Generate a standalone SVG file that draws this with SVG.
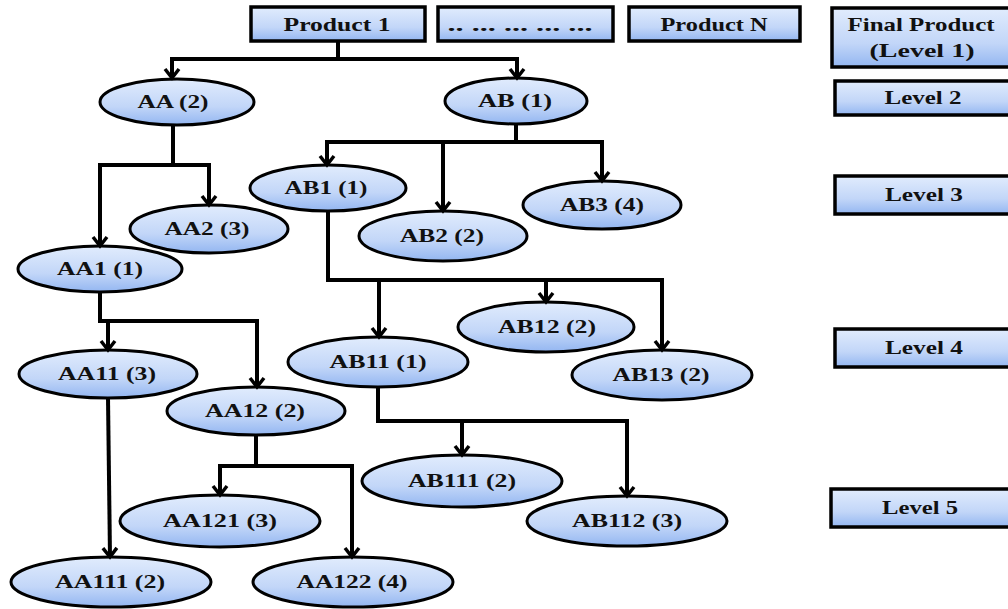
<svg xmlns="http://www.w3.org/2000/svg" width="1008" height="609" viewBox="0 0 1008 609">
<defs>
<linearGradient id="g" x1="0" y1="0" x2="0" y2="1">
<stop offset="0" stop-color="#e1ecfd"/>
<stop offset="0.6" stop-color="#c2d6f8"/>
<stop offset="1" stop-color="#93b6f1"/>
</linearGradient>
<marker id="arr" markerWidth="16" markerHeight="18" refX="12" refY="9" orient="auto" markerUnits="userSpaceOnUse" viewBox="0 0 16 18">
<path d="M3,2 L12,9 L3,16" fill="none" stroke="#000" stroke-width="3.5"/>
</marker>
</defs>
<style>
.box{fill:url(#g);stroke:#000;stroke-width:3.5}
.el{fill:url(#g);stroke:#000;stroke-width:3}
.t{font-family:"Liberation Serif","Times New Roman",serif;font-weight:bold;font-size:19px;fill:#111;text-anchor:middle}
.c{fill:none;stroke:#000;stroke-width:4;marker-end:url(#arr)}
</style>
<rect width="1008" height="609" fill="#fff"/>

<g id="product1"><rect class="box" x="251" y="7" width="174" height="34"/><text class="t" x="337" y="31" textLength="107" lengthAdjust="spacingAndGlyphs">Product 1</text></g>
<g id="dots"><rect class="box" x="438" y="7" width="175" height="34"/><text class="t" x="520" y="31" textLength="145" lengthAdjust="spacingAndGlyphs">.. ... ... ... ...</text></g>
<g id="productN"><rect class="box" x="629" y="7" width="171" height="34"/><text class="t" x="714" y="31" textLength="107" lengthAdjust="spacingAndGlyphs">Product N</text></g>
<g id="level1"><rect class="box" x="832" y="8" width="180" height="59"/><text class="t" x="921" y="31" textLength="147" lengthAdjust="spacingAndGlyphs">Final Product</text><text class="t" x="922" y="57" textLength="105" lengthAdjust="spacingAndGlyphs">(Level 1)</text></g>
<g id="level2"><rect class="box" x="835" y="81" width="177" height="34"/><text class="t" x="923" y="104" textLength="77" lengthAdjust="spacingAndGlyphs">Level 2</text></g>
<g id="level3"><rect class="box" x="835" y="176" width="177" height="38"/><text class="t" x="924" y="201" textLength="78" lengthAdjust="spacingAndGlyphs">Level 3</text></g>
<g id="level4"><rect class="box" x="835" y="329" width="177" height="38"/><text class="t" x="924" y="354" textLength="78" lengthAdjust="spacingAndGlyphs">Level 4</text></g>
<g id="level5"><rect class="box" x="831" y="489" width="181" height="38"/><text class="t" x="920" y="514" textLength="76" lengthAdjust="spacingAndGlyphs">Level 5</text></g>

<g id="AA"><ellipse class="el" cx="177" cy="102" rx="77" ry="23"/><text class="t" x="173" y="108" textLength="71" lengthAdjust="spacingAndGlyphs">AA (2)</text></g>
<g id="AB"><ellipse class="el" cx="516" cy="101" rx="71" ry="23"/><text class="t" x="515" y="107" textLength="74" lengthAdjust="spacingAndGlyphs">AB (1)</text></g>
<g id="AB1"><ellipse class="el" cx="328" cy="188" rx="78" ry="23"/><text class="t" x="326" y="194" textLength="83" lengthAdjust="spacingAndGlyphs">AB1 (1)</text></g>
<g id="AA2"><ellipse class="el" cx="209" cy="229" rx="79" ry="24"/><text class="t" x="207" y="235" textLength="85" lengthAdjust="spacingAndGlyphs">AA2 (3)</text></g>
<g id="AB2"><ellipse class="el" cx="443" cy="236" rx="84" ry="25"/><text class="t" x="442" y="242" textLength="84" lengthAdjust="spacingAndGlyphs">AB2 (2)</text></g>
<g id="AB3"><ellipse class="el" cx="602" cy="205" rx="79" ry="24"/><text class="t" x="602" y="211" textLength="84" lengthAdjust="spacingAndGlyphs">AB3 (4)</text></g>
<g id="AA1"><ellipse class="el" cx="100" cy="269" rx="82" ry="23"/><text class="t" x="100" y="275" textLength="86" lengthAdjust="spacingAndGlyphs">AA1 (1)</text></g>
<g id="AB12"><ellipse class="el" cx="546" cy="327" rx="88" ry="25"/><text class="t" x="547" y="333" textLength="98" lengthAdjust="spacingAndGlyphs">AB12 (2)</text></g>
<g id="AB11"><ellipse class="el" cx="378" cy="362" rx="90" ry="25"/><text class="t" x="378" y="368" textLength="97" lengthAdjust="spacingAndGlyphs">AB11 (1)</text></g>
<g id="AB13"><ellipse class="el" cx="662" cy="375" rx="90" ry="25"/><text class="t" x="661" y="381" textLength="97" lengthAdjust="spacingAndGlyphs">AB13 (2)</text></g>
<g id="AA11"><ellipse class="el" cx="108" cy="374" rx="89" ry="24"/><text class="t" x="107" y="380" textLength="98" lengthAdjust="spacingAndGlyphs">AA11 (3)</text></g>
<g id="AA12"><ellipse class="el" cx="256" cy="411" rx="89" ry="24"/><text class="t" x="255" y="417" textLength="100" lengthAdjust="spacingAndGlyphs">AA12 (2)</text></g>
<g id="AB111"><ellipse class="el" cx="462" cy="481" rx="100" ry="26"/><text class="t" x="462" y="487" textLength="108" lengthAdjust="spacingAndGlyphs">AB111 (2)</text></g>
<g id="AB112"><ellipse class="el" cx="627" cy="521" rx="100" ry="25"/><text class="t" x="627" y="527" textLength="110" lengthAdjust="spacingAndGlyphs">AB112 (3)</text></g>
<g id="AA121"><ellipse class="el" cx="220" cy="521" rx="100" ry="26"/><text class="t" x="220" y="527" textLength="114" lengthAdjust="spacingAndGlyphs">AA121 (3)</text></g>
<g id="AA111"><ellipse class="el" cx="111" cy="582" rx="100" ry="25"/><text class="t" x="110" y="588" textLength="110" lengthAdjust="spacingAndGlyphs">AA111 (2)</text></g>
<g id="AA122"><ellipse class="el" cx="353" cy="582" rx="100" ry="25"/><text class="t" x="352" y="588" textLength="111" lengthAdjust="spacingAndGlyphs">AA122 (4)</text></g>

<g id="connectors">
<path class="c" d="M338,41 V59 H172 V78"/>
<path class="c" d="M338,41 V59 H517 V78"/>
<path class="c" d="M173,125 V165 H100 V246"/>
<path class="c" d="M173,125 V165 H209 V205"/>
<path class="c" d="M516,124 V142 H327 V165"/>
<path class="c" d="M516,124 V142 H443 V211"/>
<path class="c" d="M516,124 V142 H602 V181"/>
<path class="c" d="M328,211 V280 H379 V337"/>
<path class="c" d="M328,211 V280 H546 V302"/>
<path class="c" d="M328,211 V280 H662 V350"/>
<path class="c" d="M100,292 V321 H108 V350"/>
<path class="c" d="M100,292 V321 H257 V387"/>
<path class="c" d="M108,398 L110,557"/>
<path class="c" d="M256,435 V466 H220 V495"/>
<path class="c" d="M256,435 V466 H352 V557"/>
<path class="c" d="M378,387 V421 H462 V455"/>
<path class="c" d="M378,387 V421 H627 V496"/>
</g>
</svg>
